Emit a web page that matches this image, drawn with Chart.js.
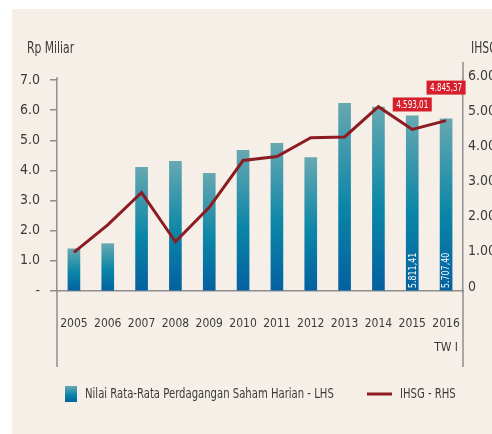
<!DOCTYPE html>
<html>
<head>
<meta charset="utf-8">
<script src="https://cdn.jsdelivr.net/npm/chart.js@4.4.1/dist/chart.umd.min.js"></script>
<style>
  html, body { margin: 0; padding: 0; background: #fff; }
  #wrap { width: 492px; height: 434px; position: relative; }
</style>
</head>
<body>
<div id="wrap"><canvas id="chart"></canvas></div>
<script>
const years = ['2005', '2006', '2007', '2008', '2009', '2010', '2011', '2012', '2013', '2014', '2015', ['2016', 'TW I']];
const tradingValue = [1.40, 1.57, 4.10, 4.30, 3.90, 4.67, 4.90, 4.43, 6.23, 6.10, 5.81, 5.71];
const ihsg = [1100, 1880, 2800, 1400, 2380, 3710, 3825, 4360, 4380, 5240, 4593.01, 4845.37];
const barText = ['', '', '', '', '', '', '', '', '', '', '5.811,41', '5.707,40'];
const lineText = ['', '', '', '', '', '', '', '', '', '', '4.593,01', '4.845,37'];
const leftTicks = [0, 1, 2, 3, 4, 5, 6, 7];
const rightTicks = [0, 1000, 2000, 3000, 4000, 5000, 6000];

const FONT = "'Liberation Sans Narrow', 'DejaVu Sans Condensed', 'Roboto', sans-serif";
const TEXT = '#3b3b3b';
const AXIS = '#8e8e8e';
const RED_LINE = '#8c1c21';
const TAG_RED = '#d61f2c';
const SQUEEZE = 0.8;

function barGradient(ctx, top, bottom) {
    const g = ctx.createLinearGradient(0, top, 0, bottom);
    g.addColorStop(0, '#66a8b1');
    g.addColorStop(0.55, '#0b86a7');
    g.addColorStop(1, '#0460a0');
    return g;
}

function thousands(v) {
    return String(v).replace(/\B(?=(\d{3})+(?!\d))/g, '.');
}

// no condensed face installed, so squeeze the text horizontally
function narrowText(ctx, text, x, y) {
    ctx.save();
    ctx.translate(x, y);
    ctx.scale(SQUEEZE, 1);
    ctx.fillText(text, 0, 0);
    ctx.restore();
}

const decor = {
    id: 'decor',
    beforeDraw(chart) {
        const { ctx, width, height } = chart;
        ctx.save();
        ctx.fillStyle = '#ffffff';
        ctx.fillRect(0, 0, width, height);
        ctx.fillStyle = '#f5efe8';
        ctx.fillRect(12, 9, width - 12, height - 9);
        ctx.restore();
    },
    afterDatasetsDraw(chart) {
        const { ctx } = chart;
        const xs = chart.scales.x;
        const ys = chart.scales.y;
        const y1 = chart.scales.y1;
        ctx.save();
        ctx.font = '11px ' + FONT;
        ctx.fillStyle = '#ffffff';
        ctx.textAlign = 'left';
        ctx.textBaseline = 'middle';
        barText.forEach((t, i) => {
            if (!t) return;
            const x = xs.getPixelForValue(i);
            const base = ys.getPixelForValue(0);
            ctx.save();
            ctx.translate(x + 0.5, base - 3);
            ctx.rotate(-Math.PI / 2);
            narrowText(ctx, t, 0, 0);
            ctx.restore();
        });
        ctx.textAlign = 'center';
        ctx.font = '10px ' + FONT;
        lineText.forEach((t, i) => {
            if (!t) return;
            const x = xs.getPixelForValue(i);
            const y = y1.getPixelForValue(ihsg[i]) - (i === lineText.length - 1 ? 33 : 25);
            const w = ctx.measureText(t).width * SQUEEZE + 7;
            ctx.fillStyle = TAG_RED;
            ctx.fillRect(x - w / 2, y - 7, w, 14);
            ctx.fillStyle = '#ffffff';
            narrowText(ctx, t, x, y + 0.5);
        });
        ctx.restore();
    },
    afterDraw(chart) {
        const { ctx, chartArea } = chart;
        const lx = chart.scales.y.right;
        const rx = chart.scales.y1.left;
        ctx.save();
        ctx.strokeStyle = AXIS;
        ctx.lineWidth = 1.5;
        ctx.beginPath();
        ctx.moveTo(lx, chartArea.top - 3);
        ctx.lineTo(lx, chartArea.top);
        ctx.moveTo(lx, chartArea.bottom);
        ctx.lineTo(lx, 367);
        ctx.moveTo(rx, 62);
        ctx.lineTo(rx, chartArea.top);
        ctx.moveTo(rx, chartArea.bottom);
        ctx.lineTo(rx, 367);
        ctx.stroke();

        ctx.fillStyle = TEXT;
        ctx.textBaseline = 'middle';
        ctx.textAlign = 'left';
        ctx.font = '15px ' + FONT;
        narrowText(ctx, 'Rp Miliar', 27, 49);
        narrowText(ctx, 'IHSG', 471, 49);

        const bars = chart.data.datasets.find(d => d.type === 'bar');
        const line = chart.data.datasets.find(d => d.type === 'line');
        const ly = 394;
        ctx.fillStyle = barGradient(ctx, 386, 402);
        ctx.fillRect(65, 386, 12, 16);
        ctx.fillStyle = TEXT;
        ctx.font = '14px ' + FONT;
        narrowText(ctx, bars.label, 85, ly);
        ctx.strokeStyle = RED_LINE;
        ctx.lineWidth = 3;
        ctx.beginPath();
        ctx.moveTo(367, ly);
        ctx.lineTo(392, ly);
        ctx.stroke();
        narrowText(ctx, line.label, 400, ly);
        ctx.restore();
    }
};

const ctx = document.getElementById('chart').getContext('2d');
new Chart(ctx, {
    data: {
        labels: years,
        datasets: [
            {
                type: 'line',
                label: 'IHSG - RHS',
                data: ihsg,
                yAxisID: 'y1',
                borderColor: RED_LINE,
                borderWidth: 3,
                pointRadius: 0,
                tension: 0,
                order: 0
            },
            {
                type: 'bar',
                label: 'Nilai Rata-Rata Perdagangan Saham Harian - LHS',
                data: tradingValue,
                yAxisID: 'y',
                barThickness: 12,
                order: 1,
                backgroundColor(c) {
                    const chart = c.chart;
                    if (!chart.chartArea || c.dataIndex === undefined) return '#0b86a7';
                    const ys = chart.scales.y;
                    const top = ys.getPixelForValue(tradingValue[c.dataIndex]);
                    const bottom = ys.getPixelForValue(0);
                    return barGradient(chart.ctx, top, bottom);
                }
            }
        ]
    },
    options: {
        responsive: true,
        maintainAspectRatio: false,
        animation: false,
        layout: { padding: { top: 80, left: 0, right: 0, bottom: 0 } },
        plugins: {
            legend: { display: false },
            tooltip: { enabled: false }
        },
        scales: {
            x: {
                grid: { display: false },
                border: { display: true, color: AXIS, width: 1.5 },
                ticks: {
                    color: TEXT,
                    font: { family: FONT, size: 12, lineHeight: 2 },
                    padding: 13,
                    maxRotation: 0,
                    autoSkip: false
                },
                afterFit(scale) { scale.height = 143; }
            },
            y: {
                position: 'left',
                min: 0,
                max: 7,
                afterBuildTicks(scale) { scale.ticks = leftTicks.map(v => ({ value: v })); },
                grid: { drawOnChartArea: false, drawTicks: true, tickLength: 7, color: AXIS, lineWidth: 1.5 },
                border: { display: true, color: AXIS, width: 1.5 },
                ticks: {
                    color: TEXT,
                    font: { family: FONT, size: 14 },
                    padding: 10,
                    callback: v => v === 0 ? '-' : v.toFixed(1)
                },
                afterFit(scale) { scale.width = 57; }
            },
            y1: {
                position: 'right',
                min: 0,
                max: 6000,
                afterBuildTicks(scale) { scale.ticks = rightTicks.map(v => ({ value: v })); },
                grid: { drawOnChartArea: false, drawTicks: false },
                border: { display: true, color: AXIS, width: 1.5 },
                ticks: {
                    color: TEXT,
                    font: { family: FONT, size: 14 },
                    padding: 5,
                    labelOffset: -4,
                    callback: v => v === 0 ? '0' : thousands(v)
                },
                afterFit(scale) { scale.width = 29; }
            }
        }
    },
    plugins: [decor]
});
</script>
</body>
</html>
